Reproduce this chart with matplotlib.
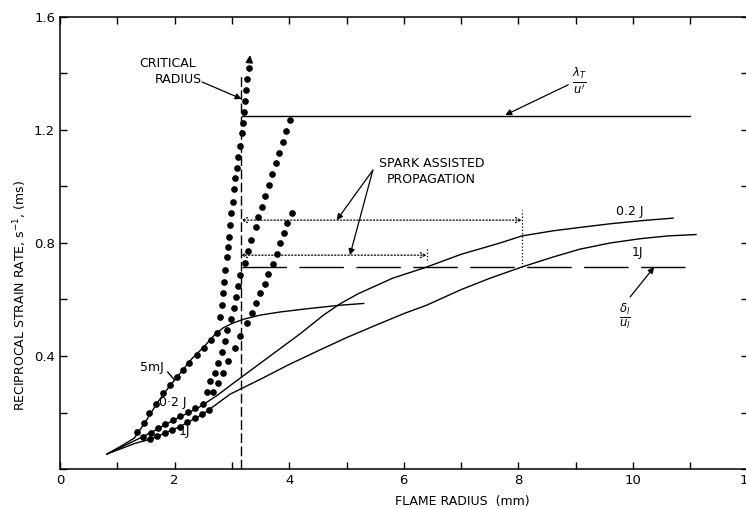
import numpy as np
import matplotlib.pyplot as plt
import matplotlib.ticker as mticker

plt.rcParams['font.family'] = ['Liberation Sans Narrow', 'DejaVu Sans']

# solid curves (flame radius mm, reciprocal strain rate ms)
r_5mJ = [0.82, 1.1, 1.3, 1.5, 1.7, 1.9, 2.1, 2.3, 2.5, 2.7, 2.85, 3.0, 3.2, 3.5, 3.85, 4.3, 4.9, 5.3]
t_5mJ = [0.053, 0.085, 0.11, 0.17, 0.235, 0.29, 0.34, 0.39, 0.43, 0.475, 0.5, 0.515, 0.53, 0.545, 0.556, 0.567, 0.58, 0.586]

r_02J = [0.82, 1.3, 1.6, 2.0, 2.4, 2.74, 3.0, 3.3, 3.7, 4.2, 4.6, 4.89, 5.2, 5.8, 6.4, 7.0, 7.68, 8.06, 8.6, 9.07, 9.6, 10.2, 10.7]
t_02J = [0.053, 0.1, 0.13, 0.175, 0.215, 0.26, 0.3, 0.345, 0.405, 0.48, 0.545, 0.585, 0.62, 0.675, 0.715, 0.76, 0.8, 0.825, 0.843, 0.855, 0.868, 0.88, 0.888]

r_1J = [0.82, 1.3, 1.6, 2.09, 2.5, 2.97, 3.5, 4.0, 4.5, 5.0, 5.5, 6.0, 6.4, 7.0, 7.5, 8.06, 8.6, 9.07, 9.6, 10.12, 10.6, 11.1]
t_1J = [0.053, 0.09, 0.107, 0.15, 0.195, 0.265, 0.318, 0.37, 0.418, 0.465, 0.508, 0.55, 0.58, 0.635, 0.675, 0.715, 0.75, 0.778, 0.8, 0.815, 0.825, 0.83]

# measured points (dots)
r_dots_5mJ = [1.34, 1.47, 1.55, 1.68, 1.80, 1.92, 2.04, 2.15, 2.25, 2.39, 2.51, 2.64, 2.74,
              2.79, 2.83, 2.84, 2.86, 2.88, 2.91, 2.93, 2.95, 2.97, 2.98, 3.02, 3.04, 3.05,
              3.09, 3.11, 3.14, 3.18, 3.19, 3.21, 3.22, 3.25, 3.26, 3.30]
t_dots_5mJ = [0.131, 0.163, 0.198, 0.23, 0.269, 0.297, 0.326, 0.35, 0.375, 0.403, 0.428, 0.457, 0.481,
              0.538, 0.581, 0.623, 0.662, 0.704, 0.75, 0.786, 0.821, 0.864, 0.906, 0.945, 0.991, 1.03,
              1.066, 1.104, 1.143, 1.189, 1.225, 1.264, 1.303, 1.342, 1.381, 1.419]

r_dots_02J = [1.45, 1.58, 1.71, 1.84, 1.97, 2.10, 2.23, 2.36, 2.49,
              2.56, 2.62, 2.70, 2.76, 2.83, 2.88, 2.92, 2.98, 3.03, 3.07, 3.11, 3.15, 3.23, 3.28,
              3.34, 3.42, 3.46, 3.53, 3.58, 3.65, 3.70, 3.77, 3.82, 3.89, 3.95, 4.01]
t_dots_02J = [0.115, 0.129, 0.144, 0.158, 0.172, 0.187, 0.201, 0.215, 0.229,
              0.273, 0.31, 0.34, 0.375, 0.414, 0.453, 0.492, 0.531, 0.57, 0.61, 0.648, 0.687, 0.729, 0.77,
              0.81, 0.857, 0.892, 0.927, 0.966, 1.005, 1.044, 1.083, 1.119, 1.157, 1.196, 1.235]

r_dots_1J = [1.57, 1.70, 1.83, 1.96, 2.09, 2.22, 2.35, 2.48, 2.60,
             2.67, 2.75, 2.84, 2.94, 3.05, 3.15, 3.26, 3.35, 3.42, 3.49, 3.58, 3.63, 3.72,
             3.79, 3.84, 3.91, 3.96, 4.05]
t_dots_1J = [0.105, 0.116, 0.128, 0.139, 0.15, 0.165, 0.181, 0.196, 0.21,
             0.273, 0.305, 0.34, 0.384, 0.428, 0.472, 0.517, 0.552, 0.588, 0.623, 0.655, 0.69, 0.726,
             0.761, 0.8, 0.835, 0.871, 0.906]

# reference levels
lam_T = 1.25          # lambda_T / u'
delta_l = 0.715       # delta_l / u_l
r_crit = 3.16
r_start, r_end = 3.17, 11.0
r_spark_02J = 6.4
r_spark_1J = 8.06

fig = plt.figure(figsize=(7.46, 5.09), dpi=100)
ax = fig.add_axes([60 / 746, 1 - 469 / 509, 687.6 / 746, 452 / 509])
ax.set_xlim(0, 12)
ax.set_ylim(0, 1.6)

k = dict(color='black', lw=1.0)
ax.plot(r_5mJ, t_5mJ, **k)
ax.plot(r_02J, t_02J, **k)
ax.plot(r_1J, t_1J, **k)

for r, t in [(r_dots_5mJ, t_dots_5mJ), (r_dots_02J, t_dots_02J), (r_dots_1J, t_dots_1J)]:
    ax.plot(r, t, 'o', color='black', ms=3.8, mec='black')

ax.annotate('', xy=(3.32, 1.475), xytext=(3.30, 1.43),
            arrowprops=dict(arrowstyle='-|>', color='black', lw=1.0, mutation_scale=11))

# horizontal levels
ax.plot([r_start, r_end], [lam_T, lam_T], **k)
ln, = ax.plot([r_start, r_end], [delta_l, delta_l], **k)
ln.set_dashes([32, 9])

# critical radius
vl, = ax.plot([r_crit, r_crit], [0, 1.39], **k)
vl.set_dashes([7, 2.5])

# spark assisted propagation arrows
ax.annotate('', xy=(r_crit, 0.881), xytext=(r_spark_1J, 0.881),
            arrowprops=dict(arrowstyle='<->', color='black', lw=0.9, ls=':',
                            shrinkA=0, shrinkB=0, mutation_scale=9))
ax.annotate('', xy=(r_crit, 0.757), xytext=(r_spark_02J, 0.757),
            arrowprops=dict(arrowstyle='<->', color='black', lw=0.9, ls=':',
                            shrinkA=0, shrinkB=0, mutation_scale=9))
ax.plot([r_spark_1J, r_spark_1J], [delta_l, 0.917], color='black', lw=0.9, ls=':')
ax.plot([r_spark_02J, r_spark_02J], [0.74, 0.786], color='black', lw=0.9, ls=':')

fs = 9
ax.text(1.88, 1.437, 'CRITICAL', ha='center', va='center', fontsize=fs)
ax.text(2.06, 1.377, 'RADIUS', ha='center', va='center', fontsize=fs)
ax.annotate('', xy=(3.17, 1.31), xytext=(2.48, 1.37),
            arrowprops=dict(arrowstyle='-|>', color='black', lw=0.9, mutation_scale=9,
                            shrinkA=0, shrinkB=0))

ax.text(6.48, 1.053, 'SPARK ASSISTED\nPROPAGATION', ha='center', va='center',
        fontsize=fs, linespacing=1.3)
for tgt in [(4.83, 0.881), (5.06, 0.757)]:
    ax.annotate('', xy=tgt, xytext=(5.46, 1.058),
                arrowprops=dict(arrowstyle='-|>', color='black', lw=0.9, mutation_scale=9,
                                shrinkA=0, shrinkB=0))

ax.text(9.07, 1.375, r'$\frac{\lambda_T}{u^{\prime}}$', ha='center', va='center', fontsize=12)
ax.annotate('', xy=(7.77, 1.253), xytext=(8.87, 1.36),
            arrowprops=dict(arrowstyle='-|>', color='black', lw=0.9, mutation_scale=9,
                            shrinkA=0, shrinkB=0))
ax.text(9.86, 0.54, r'$\frac{\delta_l}{u_l}$', ha='center', va='center', fontsize=12)
ax.annotate('', xy=(10.37, 0.715), xytext=(9.95, 0.609),
            arrowprops=dict(arrowstyle='-|>', color='black', lw=0.9, mutation_scale=9,
                            shrinkA=0, shrinkB=0))

# curve labels
ax.text(9.95, 0.913, '0.2 J', ha='center', va='center', fontsize=fs)
ax.text(10.07, 0.768, '1J', ha='center', va='center', fontsize=fs)
ax.text(1.6, 0.36, '5mJ', ha='center', va='center', fontsize=fs)
ax.plot([1.88, 2.0], [0.343, 0.315], **k)
ax.text(1.97, 0.237, '0·2 J', ha='center', va='center', fontsize=fs)
ax.text(2.18, 0.131, '1J', ha='center', va='center', fontsize=fs)

# axes styling
ax.spines['right'].set_visible(False)
ax.xaxis.set_major_locator(mticker.MultipleLocator(2))
ax.xaxis.set_minor_locator(mticker.MultipleLocator(1))
ax.yaxis.set_major_locator(mticker.FixedLocator([0.4, 0.8, 1.2, 1.6]))
ax.yaxis.set_minor_locator(mticker.MultipleLocator(0.2))
ax.xaxis.set_major_formatter(mticker.FormatStrFormatter('%d'))
ax.yaxis.set_major_formatter(mticker.FormatStrFormatter('%.1f'))
ax.tick_params(which='both', direction='in', top=True, right=True, length=5, width=1.0,
               labelsize=fs + 0.5)
ax.tick_params(axis='y', which='both', right=True)
for s in ['left', 'bottom', 'top']:
    ax.spines[s].set_linewidth(1.1)

fig.text(20 / 746, 1 - 295 / 509, 'RECIPROCAL STRAIN RATE, s$^{-1}$, (ms)', rotation=90,
         ha='center', va='center', fontsize=fs)
fig.text(462 / 746, 1 - 502 / 509, 'FLAME RADIUS  (mm)', ha='center', va='center', fontsize=fs)

fig.savefig('out.png', dpi=100)
